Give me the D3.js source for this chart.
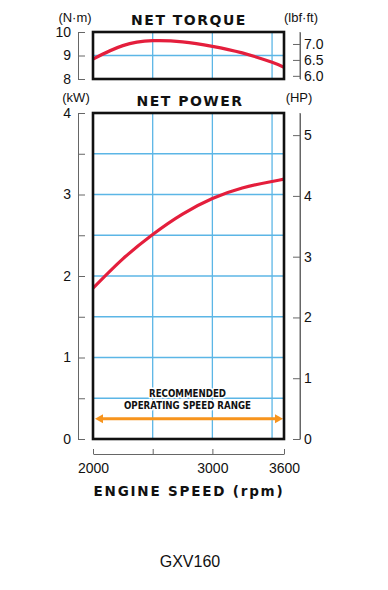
<!DOCTYPE html>
<html>
<head>
<meta charset="utf-8">
<script src="https://cdn.jsdelivr.net/npm/d3@7"></script>
<style>
  body { margin: 0; background: #fff; }
  svg { display: block; }
  .tick text { font-family: "Liberation Sans", Arial, sans-serif; fill: #111; }
  .axis path, .axis line { stroke: #666; stroke-width: 1; }
</style>
</head>
<body>
<div id="chart"></div>
<script>
// engine speed samples (rpm) and the values
var rpm = [2000, 2250, 2500, 2750, 3000, 3250, 3500, 3600];
var torqueNm = [8.85, 9.42, 9.63, 9.58, 9.39, 9.11, 8.71, 8.50];
var powerKw = [1.85, 2.21, 2.51, 2.76, 2.95, 3.08, 3.16, 3.19];

var rpmTicks = [2000, 2500, 3000, 3600];
var rpmLabels = ['2000', '', '3000', '3600'];
var rpmGrid = [2500, 3000, 3500];
var torqueTicks = [8, 9, 10];
var lbfTicks = [6.0, 6.5, 7.0];
var kwTicks = [0, 0.5, 1, 1.5, 2, 2.5, 3, 3.5, 4];
var kwGrid = [0.5, 1, 1.5, 2, 2.5, 3, 3.5];
var hpTicks = [0, 1, 2, 3, 4, 5];
var rangeRpm = [2000, 3600];
var rangeLines = ['RECOMMENDED', 'OPERATING SPEED RANGE'];

var NM_TO_LBF = 0.7376;
var KW_TO_HP = 1 / 0.7457;

var W = 388, H = 590;
var left = 93, right = 284;
var tTop = 32, tBot = 79;
var pTop = 113, pBot = 439;
var axL = 78, axR = 300, axB = 454;

var gridColor = '#5cb6e6';
var red = '#e41e3c';

var svg = d3.select('#chart').append('svg')
    .attr('width', W)
    .attr('height', H);

var x = d3.scaleLinear().domain([2000, 3600]).range([left, right]);
var yT = d3.scaleLinear().domain([8, 10]).range([tBot, tTop]);
var yLbf = d3.scaleLinear().domain([8 * NM_TO_LBF, 10 * NM_TO_LBF]).range([tBot, tTop]);
var yP = d3.scaleLinear().domain([0, 4]).range([pBot, pTop]);
var yHp = d3.scaleLinear().domain([0, 4 * KW_TO_HP]).range([pBot, pTop]);

function panel(y, yTop, yBot, hGrid, values, clipId) {
    var g = svg.append('g');
    g.append('clipPath').attr('id', clipId)
        .append('rect')
        .attr('x', left).attr('y', yTop)
        .attr('width', right - left).attr('height', yBot - yTop);
    g.selectAll('line.vgrid')
        .data(rpmGrid)
        .enter()
        .append('line')
        .attr('x1', function (d) { return x(d); })
        .attr('x2', function (d) { return x(d); })
        .attr('y1', yTop).attr('y2', yBot)
        .style('stroke', gridColor)
        .style('stroke-width', 1.3);
    g.selectAll('line.hgrid')
        .data(hGrid)
        .enter()
        .append('line')
        .attr('x1', left).attr('x2', right)
        .attr('y1', function (d) { return y(d); })
        .attr('y2', function (d) { return y(d); })
        .style('stroke', gridColor)
        .style('stroke-width', 1.3);
    var line = d3.line()
        .x(function (d, i) { return x(rpm[i]); })
        .y(function (d) { return y(d); })
        .curve(d3.curveNatural);
    g.append('path')
        .datum(values)
        .attr('d', line)
        .attr('clip-path', 'url(#' + clipId + ')')
        .style('fill', 'none')
        .style('stroke', red)
        .style('stroke-width', 3.2);
    return g;
}

function frame(yTop, yBot) {
    svg.append('rect')
        .attr('x', left).attr('y', yTop)
        .attr('width', right - left).attr('height', yBot - yTop)
        .style('fill', 'none')
        .style('stroke', '#111')
        .style('stroke-width', 2.6);
}

// Torque panel
panel(yT, tTop, tBot, [9], torqueNm, 'clipT');
frame(tTop, tBot);

// Power panel
var pg = panel(yP, pTop, pBot, kwGrid, powerKw, 'clipP');

// Recommended operating range arrow
var arrowY = yP(0.25);
var ax0 = x(rangeRpm[0]) + 2, ax1 = x(rangeRpm[1]) - 1;
pg.append('line')
    .attr('x1', ax0 + 5).attr('x2', ax1 - 5)
    .attr('y1', arrowY).attr('y2', arrowY)
    .style('stroke', '#f7941d')
    .style('stroke-width', 3);
pg.append('path')
    .attr('d', 'M' + ax0 + ',' + arrowY + 'L' + (ax0 + 8) + ',' + (arrowY - 4.5) + 'L' + (ax0 + 8) + ',' + (arrowY + 4.5) + 'Z')
    .style('fill', '#f7941d');
pg.append('path')
    .attr('d', 'M' + ax1 + ',' + arrowY + 'L' + (ax1 - 8) + ',' + (arrowY - 4.5) + 'L' + (ax1 - 8) + ',' + (arrowY + 4.5) + 'Z')
    .style('fill', '#f7941d');

// white halo drawn under the glyphs with paint-order
var rangeWidths = [77, 127];
pg.selectAll('text.range')
    .data(rangeLines)
    .enter()
    .append('text')
    .classed('range', true)
    .attr('x', (left + right) / 2 - 1)
    .attr('y', function (d, i) { return 397 + i * 11.5; })
    .attr('text-anchor', 'middle')
    .attr('textLength', function (d, i) { return rangeWidths[i]; })
    .attr('lengthAdjust', 'spacingAndGlyphs')
    .style('font-family', '"DejaVu Sans Condensed", "DejaVu Sans", sans-serif')
    .style('font-weight', 'bold')
    .style('font-size', '11px')
    .style('fill', '#111')
    .style('stroke', '#fff')
    .style('stroke-width', 3)
    .style('stroke-linejoin', 'round')
    .style('paint-order', 'stroke')
    .text(function (d) { return d; });
frame(pTop, pBot);

// Axes
function leftAxis(scale, ticks, fmt, size) {
    var g = svg.append('g')
        .attr('class', 'axis')
        .attr('transform', 'translate(' + axL + ',0)')
        .call(d3.axisLeft(scale).tickValues(ticks).tickFormat(fmt)
            .tickSizeInner(-7).tickSizeOuter(0).tickPadding(7));
    g.selectAll('text').style('font-size', size);
}
function rightAxis(scale, ticks, fmt, size) {
    var g = svg.append('g')
        .attr('class', 'axis')
        .attr('transform', 'translate(' + axR + ',0)')
        .call(d3.axisRight(scale).tickValues(ticks).tickFormat(fmt)
            .tickSizeInner(-7).tickSizeOuter(0).tickPadding(4));
    g.selectAll('text').style('font-size', size);
}

leftAxis(yT, torqueTicks, d3.format('d'), '14px');
rightAxis(yLbf, lbfTicks, d3.format('.1f'), '14px');
leftAxis(yP, kwTicks, function (d) { return d % 1 === 0 ? d : ''; }, '14px');
rightAxis(yHp, hpTicks, d3.format('d'), '14px');

// right axis lines cover the whole panel height
svg.append('line').attr('x1', axR).attr('x2', axR).attr('y1', tTop).attr('y2', tBot)
    .style('stroke', '#666');
svg.append('line').attr('x1', axR).attr('x2', axR).attr('y1', pTop).attr('y2', pBot)
    .style('stroke', '#666');

var xg = svg.append('g')
    .attr('class', 'axis')
    .attr('transform', 'translate(0,' + axB + ')')
    .call(d3.axisBottom(x).tickValues(rpmTicks)
        .tickFormat(function (d, i) { return rpmLabels[i]; })
        .tickSizeInner(-5).tickSizeOuter(0).tickPadding(9));
xg.selectAll('text').style('font-size', '14px');

// Titles and units
function label(txt, lx, ly, size, weight, spacing) {
    svg.append('text')
        .attr('x', lx).attr('y', ly)
        .attr('text-anchor', 'middle')
        .style('font-family', weight === 'bold' ? '"DejaVu Sans", sans-serif' : '"Liberation Sans", Arial, sans-serif')
        .style('font-weight', weight)
        .style('font-size', size)
        .style('letter-spacing', spacing)
        .style('fill', '#111')
        .text(txt);
}
label('NET TORQUE', 189, 24.5, '14px', 'bold', '1.5px');
label('NET POWER', 190, 106, '14px', 'bold', '1.5px');
label('ENGINE SPEED (rpm)', 189, 496, '13.5px', 'bold', '1.8px');
label('(N\u00b7m)', 75, 21.5, '13px', 'normal', '0');
label('(lbf\u00b7ft)', 301, 21.5, '13px', 'normal', '0');
label('(kW)', 76, 102, '13px', 'normal', '0');
label('(HP)', 299, 102, '13px', 'normal', '0');
label('GXV160', 190, 567, '16px', 'normal', '0');
</script>
</body>
</html>
